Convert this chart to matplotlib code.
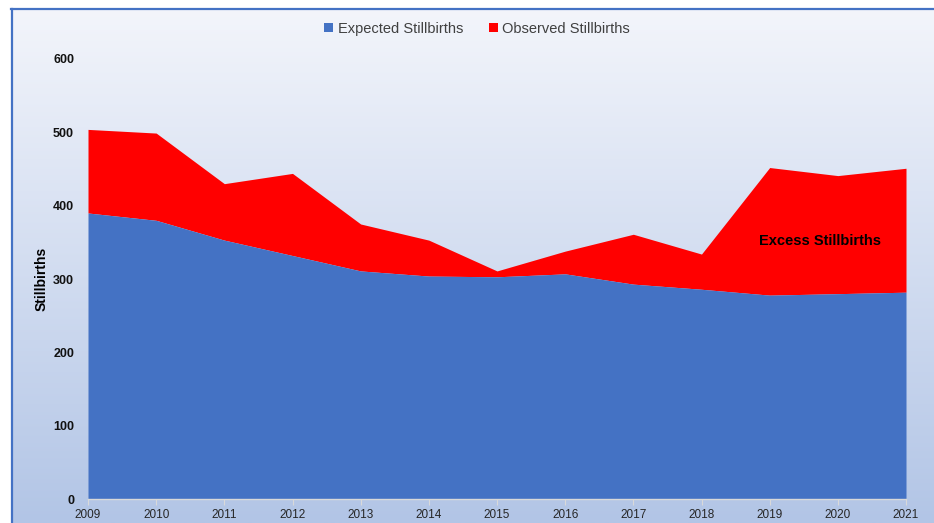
import numpy as np
import matplotlib
matplotlib.use("Agg")
import matplotlib.pyplot as plt

years = [2009, 2010, 2011, 2012, 2013, 2014, 2015, 2016, 2017, 2018, 2019, 2020, 2021]
observed = [504, 499, 430, 444, 375, 353, 311, 338, 361, 334, 452, 441, 451]
expected = [390, 380, 353, 332, 311, 304, 303, 307, 293, 286, 278, 280, 282]
y_ticks = [0, 100, 200, 300, 400, 500, 600]

plt.rcParams['font.family'] = ['Liberation Sans', 'DejaVu Sans']

fig = plt.figure(figsize=(9.34, 5.23), dpi=100)
fig.patch.set_facecolor('white')

# gradient background with blue frame
bg = fig.add_axes([11 / 934, 0, 1 - 11 / 934, (523 - 8.5) / 523])
grad = np.linspace(0, 1, 256).reshape(-1, 1)
top = np.array([243, 245, 251]) / 255
bot = np.array([178, 197, 230]) / 255
img = top + (bot - top) * grad[..., None]
bg.imshow(img, aspect='auto', extent=[0, 1, 0, 1], origin='upper')
bg.set_xlim(0, 1)
bg.set_ylim(0, 1)
bg.axis('off')
bg.plot([0.001, 0.001], [0, 1], color='#4472C4', lw=1.6, clip_on=False)
bg.plot([0, 1], [0.999, 0.999], color='#4472C4', lw=1.6, clip_on=False)

ax = fig.add_axes([88 / 934, (523 - 499) / 523, (906 - 88) / 934, (499 - 59) / 523])
ax.patch.set_alpha(0)
ax.fill_between(years, expected, observed, color='#FF0000', lw=0, label='Observed Stillbirths')
ax.fill_between(years, 0, expected, color='#4472C4', lw=0, label='Expected Stillbirths')

ax.set_xlim(years[0], years[-1])
ax.set_ylim(0, 600)
ax.set_yticks(y_ticks)
ax.set_xticks(years)
for s in ['top', 'right', 'left']:
    ax.spines[s].set_visible(False)
ax.spines['bottom'].set_color('#d9d9d9')
ax.spines['bottom'].set_linewidth(1.0)
ax.tick_params(axis='y', length=0, pad=10, labelsize=9, labelcolor='#111111')
ax.tick_params(axis='x', length=4, color='#d9d9d9', pad=3, labelsize=8.5, labelcolor='#262626')
for lbl in ax.get_yticklabels():
    lbl.set_fontweight('bold')
ax.set_ylabel('Stillbirths', fontsize=10, fontweight='bold', labelpad=3)

ax.text(2019.74, 352, 'Excess Stillbirths', fontsize=10.5, fontweight='bold',
        ha='center', va='center', color='black')

handles, labels = ax.get_legend_handles_labels()
fig.legend(handles[::-1], labels[::-1], loc='center', bbox_to_anchor=(0.511, 1 - 29 / 523),
           ncol=2, frameon=False, fontsize=10.5, handlelength=0.6, handleheight=0.6,
           handletextpad=0.3, columnspacing=1.8, labelcolor='#404040')

fig.savefig('out.png', dpi=100)
